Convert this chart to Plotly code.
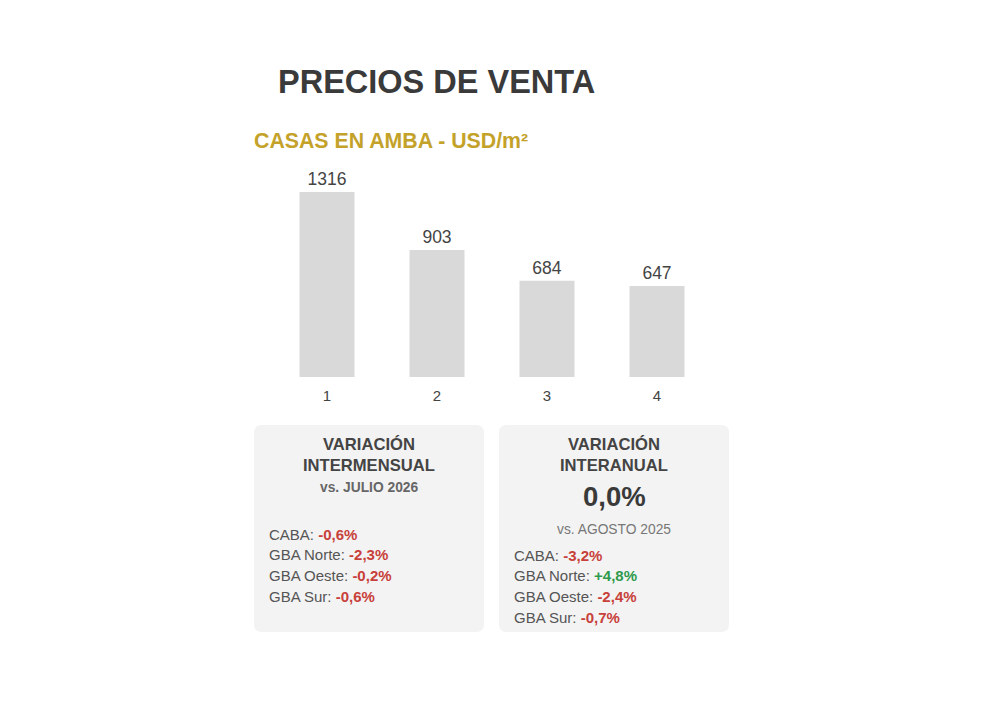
import plotly.graph_objects as go

# ---- data ----
categories = ["1", "2", "3", "4"]
values = [1316, 903, 684, 647]

title_text = "PRECIOS DE VENTA"
subtitle_text = "CASAS EN AMBA - USD/m²"

regions = ["CABA", "GBA Norte", "GBA Oeste", "GBA Sur"]
var_mensual = ["-0,6%", "-2,3%", "-0,2%", "-0,6%"]
var_anual = ["-3,2%", "+4,8%", "-2,4%", "-0,7%"]
var_anual_total = "0,0%"
ref_mensual = "vs. JULIO 2026"
ref_anual = "vs. AGOSTO 2025"

W, H = 1000, 723
OFF = 8  # page body margin
ML, MT = 272 - OFF, 170 - OFF
PW, PH = 440, 207
MR = W - ML - PW
MB = H - MT - PH
FONT = "Liberation Sans, Arial, sans-serif"
RED = "#c8403a"
GREEN = "#2f9a4c"


def px(x):
    return (x - OFF - ML) / PW


def py(y):
    return (H - MB - (y - OFF)) / PH


fig = go.Figure()
fig.add_trace(go.Bar(
    x=categories, y=values,
    marker=dict(color="#d9d9d9", line=dict(width=0)),
    text=[str(v) for v in values], textposition="outside",
    textfont=dict(size=17.5, color="#444444", family=FONT),
    cliponaxis=False, width=0.5,
))

ymax = values[0] * PH / 185.0


def rounded_rect(x0, y0, x1, y1, r=8):
    X0, X1 = px(x0), px(x1)
    Y0, Y1 = py(y0), py(y1)
    rx = r / PW
    ry = r / PH
    path = (f"M {X0+rx},{Y0} L {X1-rx},{Y0} Q {X1},{Y0} {X1},{Y0-ry} "
            f"L {X1},{Y1+ry} Q {X1},{Y1} {X1-rx},{Y1} "
            f"L {X0+rx},{Y1} Q {X0},{Y1} {X0},{Y1+ry} "
            f"L {X0},{Y0-ry} Q {X0},{Y0} {X0+rx},{Y0} Z")
    return dict(type="path", path=path, xref="paper", yref="paper",
                fillcolor="#f3f3f3", line=dict(width=0), layer="below")


shapes = [rounded_rect(254, 425, 484, 632), rounded_rect(499, 425, 729, 632)]

annotations = []


def add_text(x, y, text, size, color="#444444", xanchor="center", bold=False):
    if bold:
        text = f"<b>{text}</b>"
    annotations.append(dict(
        x=px(x), y=py(y), xref="paper", yref="paper", text=text,
        showarrow=False, xanchor=xanchor, yanchor="middle",
        font=dict(size=size, color=color, family=FONT),
    ))


add_text(436, 82, title_text, 32.5, "#3a3a3a", bold=True)
add_text(252, 141, subtitle_text, 21.3, "#c4a22a", xanchor="left", bold=True)

# left box
add_text(369, 444, "VARIACIÓN", 16.6, "#444444", bold=True)
add_text(369, 465, "INTERMENSUAL", 16.6, "#444444", bold=True)
add_text(369, 487, ref_mensual, 13.8, "#666666", bold=True)
for i, (r, v) in enumerate(zip(regions, var_mensual)):
    c = GREEN if v.startswith("+") else RED
    add_text(267, 534 + i * 20.7,
             f"{r}: <b><span style='color:{c}'>{v}</span></b>", 15, "#555555",
             xanchor="left")

# right box
add_text(614, 444, "VARIACIÓN", 16.6, "#444444", bold=True)
add_text(614, 465, "INTERANUAL", 16.6, "#444444", bold=True)
add_text(614, 496, var_anual_total, 27.5, "#3a3a3a", bold=True)
add_text(614, 529, ref_anual, 13.8, "#777777")
for i, (r, v) in enumerate(zip(regions, var_anual)):
    c = GREEN if v.startswith("+") else RED
    add_text(512, 555 + i * 20.7,
             f"{r}: <b><span style='color:{c}'>{v}</span></b>", 15, "#555555",
             xanchor="left")

fig.update_layout(
    width=W, height=H,
    margin=dict(l=ML, r=MR, t=MT, b=MB, pad=0),
    paper_bgcolor="white", plot_bgcolor="white",
    showlegend=False,
    bargap=0.5,
    xaxis=dict(type="category", showgrid=False, zeroline=False, showline=False,
               ticks="", tickfont=dict(size=15, color="#444444", family=FONT),
               ticklabelstandoff=8),
    yaxis=dict(range=[0, ymax], visible=False),
    shapes=shapes,
    annotations=annotations,
)

fig.write_html("out.html")
